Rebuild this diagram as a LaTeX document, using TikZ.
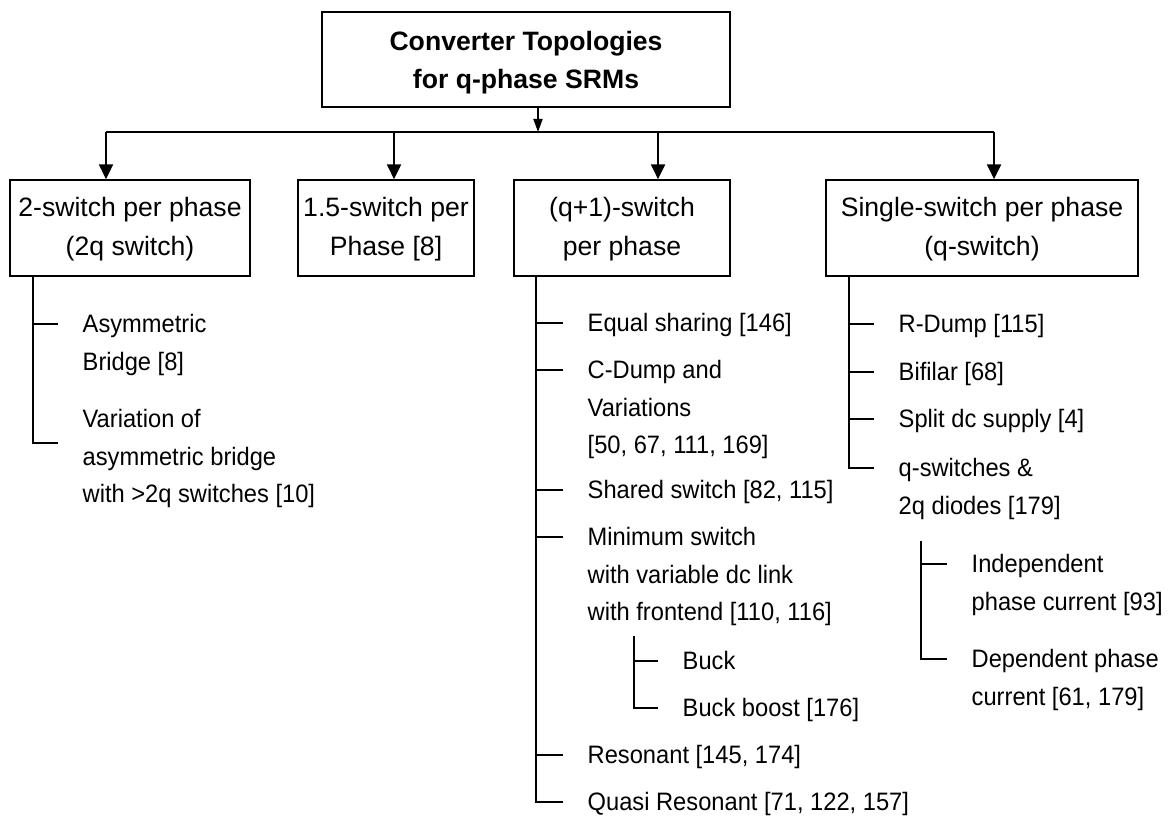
\documentclass[tikz,border=0pt]{standalone}
\usepackage{fontspec}
\setmainfont{Liberation Sans}
\newfontfamily\leaffont{Liberation Sans}[FakeStretch=0.94]
\usetikzlibrary{arrows.meta}

\tikzset{
  topbox/.style={draw,line width=0.9pt,inner sep=0pt,minimum width=204pt,minimum height=47.5pt,
    align=center,font=\fontsize{13.3}{19}\selectfont\bfseries},
  catbox/.style={draw,line width=0.9pt,inner sep=0pt,minimum height=48pt,
    align=center,font=\fontsize{13.3}{19.5}\selectfont},
  leaf/.style={anchor=north west,inner sep=0pt,xshift=12pt,yshift=5pt,align=left,
    font=\leaffont\fontsize{12.6}{18.7}\selectfont},
  branch/.style={line width=0.7pt},
  feed/.style={line width=0.9pt,-{Triangle[width=7pt,length=7.3pt]}},
}

\begin{document}
\begin{tikzpicture}[x=0.5pt,y=-0.5pt]
\useasboundingbox (0,0) rectangle (1172,817);

% root and first level
\node[topbox] (top) at (526,59.5) {\rule{0pt}{13.2pt}Converter Topologies\\for q-phase SRMs};
\node[catbox,minimum width=120pt] (b1) at (130,228) {\rule{0pt}{10.8pt}2-switch per phase\\(2q switch)};
\node[catbox,minimum width=88pt] (b2) at (386,228) {\rule{0pt}{10.8pt}1.5-switch per\\Phase [8]};
\node[catbox,minimum width=108pt] (b3) at (622,228) {\rule{0pt}{10.8pt}(q+1)-switch\\per phase};
\node[catbox,minimum width=156pt] (b4) at (982,228) {\rule{0pt}{10.8pt}Single-switch per phase\\(q-switch)};

\coordinate (bus0) at (538,132);
\coordinate (bus1) at (106,132);
\coordinate (bus2) at (394,132);
\coordinate (bus3) at (658,132);
\coordinate (bus4) at (994,132);
\draw[feed,-{Triangle[width=4.5pt,length=6.5pt]}] (top.south -| bus0) -- (bus0);
\draw[line width=0.9pt] (bus1) -- (bus4);
\foreach \i in {1,...,4}
  \draw[feed] (bus\i) -- (bus\i |- b\i.north);

% 2-switch
\draw[branch] ([xshift=12pt]b1.south west) |- (58,443) node[leaf,yshift=12pt] (va) {Variation of\\asymmetric bridge\\with >2q switches [10]};
\draw[branch] (34,324) -- (58,324) node[leaf] (ab) {Asymmetric\\Bridge [8]};

% (q+1)-switch
\draw[branch] ([xshift=11.5pt]b3.south west) |- (563,802) node[leaf] (qr) {Quasi Resonant [71, 122, 157]};
\draw[branch] (537,323) -- (563,323) node[leaf] (eq) {Equal sharing [146]};
\draw[branch] (537,370) -- (563,370) node[leaf] (cd) {C-Dump and\\Variations\\{}[50, 67, 111, 169]};
\draw[branch] (537,490) -- (563,490) node[leaf] (sh) {Shared switch [82, 115]};
\draw[branch] (537,537) -- (563,537) node[leaf] (mn) {Minimum switch\\with variable dc link\\with frontend [110, 116]};
\draw[branch] (537,755) -- (563,755) node[leaf] (rs) {Resonant [145, 174]};
\draw[branch] ([xshift=23.5pt,yshift=-4.75pt]mn.south west) |- (658,708) node[leaf] (bb) {Buck boost [176]};
\draw[branch] (634,661) -- (658,661) node[leaf] (bk) {Buck};

% single-switch
\draw[branch] ([xshift=12pt]b4.south west) |- (874,468) node[leaf] (qs) {q-switches \&\\2q diodes [179]};
\draw[branch] (850,324) -- (874,324) node[leaf] (rd) {R-Dump [115]};
\draw[branch] (850,372) -- (874,372) node[leaf] (bf) {Bifilar [68]};
\draw[branch] (850,419) -- (874,419) node[leaf] (sd) {Split dc supply [4]};
\draw[branch] ([xshift=11.5pt,yshift=-10.5pt]qs.south west) |- (947,659) node[leaf] (dp) {Dependent phase\\current [61, 179]};
\draw[branch] (922,564) -- (947,564) node[leaf] (ip) {Independent\\phase current [93]};
\end{tikzpicture}
\end{document}
